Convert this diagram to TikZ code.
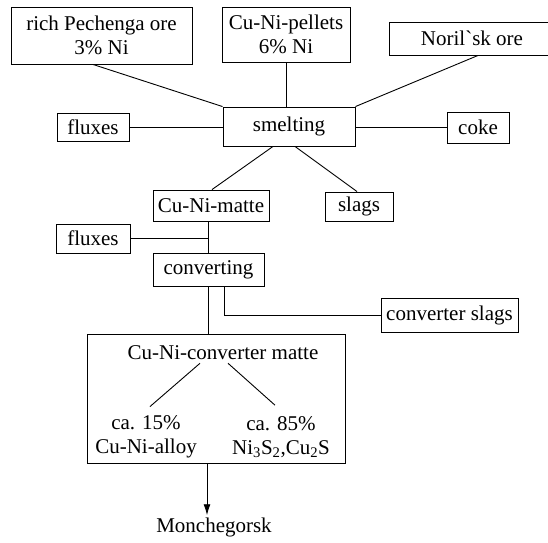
\documentclass[tikz,border=0pt]{standalone}
\usepackage{fontspec}
\setmainfont{Liberation Serif}
\usetikzlibrary{arrows.meta}
\begin{document}
\begin{tikzpicture}[x=1pt,y=-1pt,
  every node/.style={font=\fontsize{21}{24}\selectfont, inner sep=0pt},
  box/.style={draw, line width=0.9pt, align=center},
  txt/.style={align=center},
  conn/.style={line width=0.9pt}]
\useasboundingbox[fill=white] (0,0) rectangle (548,542);
% boxes
\node[box, minimum width=181pt, minimum height=57pt] (pech) at (101.5,35.5) {rich Pechenga ore\\3\% Ni};
\node[box, minimum width=128pt, minimum height=55pt] (pell) at (286,34.5) {Cu-Ni-pellets\\6\% Ni};
\node[box, minimum width=166pt, minimum height=33pt] (nor) at (472,38.5) {Noril\textasciigrave sk ore};
\node[box, minimum width=72pt, minimum height=28pt] (flux1) at (93,127.5) {fluxes};
\node[box, minimum width=132pt, minimum height=39pt] (smelt) at (289,126.5) {smelting};
\node[box, minimum width=62pt, minimum height=31pt] (coke) at (478,127.5) {coke};
\node[box, minimum width=116pt, minimum height=31pt] (matte) at (211,205.5) {Cu-Ni-matte};
\node[box, minimum width=68pt, minimum height=29pt] (slags) at (359,206.5) {slags};
\node[box, minimum width=74pt, minimum height=29pt] (flux2) at (93,238.5) {fluxes};
\node[box, minimum width=111pt, minimum height=33pt] (conv) at (208.5,269.5) {converting};
\node[box, minimum width=137pt, minimum height=34pt] (cslag) at (449.5,315) {converter slags};
\node[box, minimum width=258pt, minimum height=129pt] (cmat) at (216,398.5) {};
\node[txt] (title) at (223,353) {Cu-Ni-converter matte};
\node[txt] (left) at (146,437) {ca. 15\%\\Cu-Ni-alloy};
\node[txt] (right) at (281,437) {ca. 85\%\\Ni\textsubscript{3}S\textsubscript{2},Cu\textsubscript{2}S};
\node[txt] (mon) at (214,527) {Monchegorsk};
% connectors
\draw[conn] ([xshift=-8.5pt]pech.south) -- (smelt.north west);
\draw[conn] (pell.south) -- (pell.south |- smelt.north);
\draw[conn] ([xshift=6pt]nor.south) -- (smelt.north east);
\draw[conn] (flux1.east) -- (flux1.east -| smelt.west);
\draw[conn] (coke.west -| smelt.east) -- (coke.west);
\draw[conn] ([xshift=-16pt]smelt.south) -- ([xshift=1pt]matte.north);
\draw[conn] ([xshift=6pt]smelt.south) -- ([xshift=-2pt]slags.north);
\draw[conn] (conv.north |- matte.south) -- (conv.north);
\draw[conn] (flux2.east) -- (flux2.east -| conv.north);
\draw[conn] (conv.south) -- (conv.south |- cmat.north);
\draw[conn] ([xshift=15.5pt]conv.south) |- (cslag.west);
\draw[conn] ([xshift=-23pt,yshift=-3pt]title.south) -- ([xshift=4pt,yshift=9pt]left.north);
\draw[conn] ([xshift=5pt,yshift=-3pt]title.south) -- ([xshift=-6pt,yshift=11pt]right.north);
\draw[conn, -{Latex[length=11pt,width=7pt]}] ([xshift=-9pt]cmat.south) -- ([xshift=-7pt,yshift=2pt]mon.north);
\end{tikzpicture}
\end{document}
